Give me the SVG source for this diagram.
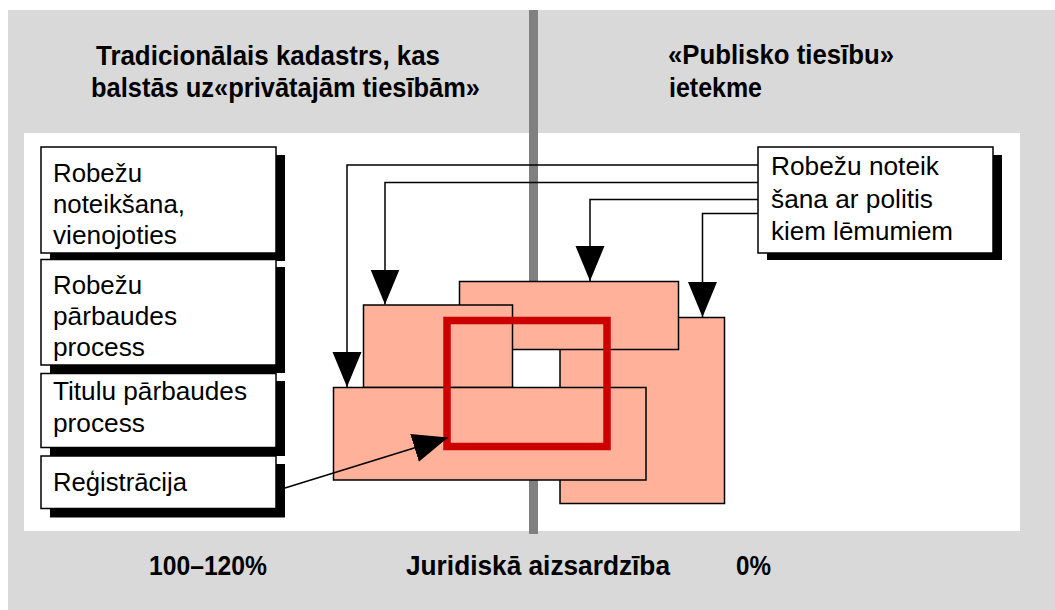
<svg xmlns="http://www.w3.org/2000/svg" width="1055" height="610" viewBox="0 0 1055 610">
<style>
.hd{font-family:"Liberation Sans",Arial,sans-serif;font-weight:bold;font-size:27px;fill:#000}
.tx{font-family:"Liberation Sans",Arial,sans-serif;font-size:25px;fill:#000}
.box{fill:#fff;stroke:#000;stroke-width:1.5}
.sh{fill:#000}
.sal{fill:#FFB19A;stroke:#000;stroke-width:1.5}
.con{fill:none;stroke:#000;stroke-width:1.5}
.bar{fill:#808080}
</style>
<defs>
<marker id="ah" markerUnits="userSpaceOnUse" markerWidth="36" markerHeight="30" refX="35" refY="14.5" orient="auto">
<path d="M0,0 L35,14.5 L0,29 Z" fill="#000"/>
</marker>
</defs>
<rect x="0" y="0" width="1055" height="610" fill="#fff"/>
<rect x="8" y="10" width="1047" height="600" fill="#D9D9D9"/>
<rect x="24" y="133" width="996" height="398" fill="#fff"/>
<rect class="bar" x="529" y="10" width="9" height="272"/>
<rect class="bar" x="529" y="480" width="9" height="54"/>

<g id="headings">
<text class="hd" x="96" y="65" textLength="344" lengthAdjust="spacingAndGlyphs">Tradicionālais kadastrs, kas</text>
<text class="hd" x="91" y="97" textLength="389" lengthAdjust="spacingAndGlyphs">balstās uz«privātajām tiesībām»</text>
<text class="hd" x="668" y="64" textLength="226" lengthAdjust="spacingAndGlyphs">«Publisko tiesību»</text>
<text class="hd" x="669" y="97" textLength="93" lengthAdjust="spacingAndGlyphs">ietekme</text>
</g>

<g id="shapes">
<rect id="rectC" class="sal" x="560" y="317.5" width="164.5" height="186"/>
<rect id="rectA" class="sal" x="459.5" y="281.5" width="219" height="68"/>
<rect id="rectB" class="sal" x="363.5" y="305" width="149" height="82.5"/>
<rect id="rectD" class="sal" x="333.5" y="387.5" width="312.5" height="92.5"/>
<rect id="redFrame" x="447" y="320.5" width="160" height="126" fill="none" stroke="#CC0000" stroke-width="7.5"/>
</g>

<g id="connectors">
<path class="con" d="M758,165 H347 V387" marker-end="url(#ah)"/>
<path class="con" d="M758,182.5 H385 V304.5" marker-end="url(#ah)"/>
<path class="con" d="M758,199.5 H590 V281" marker-end="url(#ah)"/>
<path class="con" d="M758,213.5 H702.5 V317" marker-end="url(#ah)"/>
<path class="con" d="M285,488 L448,437.5" marker-end="url(#ah)"/>
</g>

<g id="box1">
<rect class="sh" x="50" y="155" width="235" height="106"/>
<rect class="box" x="41" y="147" width="235" height="106"/>
<text class="tx" x="53" y="182" textLength="89" lengthAdjust="spacingAndGlyphs">Robežu</text>
<text class="tx" x="53" y="213" textLength="132" lengthAdjust="spacingAndGlyphs">noteikšana,</text>
<text class="tx" x="53" y="243.5" textLength="124" lengthAdjust="spacingAndGlyphs">vienojoties</text>
</g>
<g id="box2">
<rect class="sh" x="50" y="267" width="235" height="106"/>
<rect class="box" x="41" y="259.5" width="235" height="105.5"/>
<text class="tx" x="53" y="293.5" textLength="89" lengthAdjust="spacingAndGlyphs">Robežu</text>
<text class="tx" x="53" y="324.5" textLength="124" lengthAdjust="spacingAndGlyphs">pārbaudes</text>
<text class="tx" x="53" y="356" textLength="92" lengthAdjust="spacingAndGlyphs">process</text>
</g>
<g id="box3">
<rect class="sh" x="50" y="381" width="235" height="75"/>
<rect class="box" x="41" y="373.5" width="235" height="74"/>
<text class="tx" x="53" y="399.5" textLength="194" lengthAdjust="spacingAndGlyphs">Titulu pārbaudes</text>
<text class="tx" x="53" y="432" textLength="92" lengthAdjust="spacingAndGlyphs">process</text>
</g>
<g id="box4">
<rect class="sh" x="50" y="464" width="235" height="53.5"/>
<rect class="box" x="41" y="456" width="235" height="52.5"/>
<text class="tx" x="53" y="491" textLength="134" lengthAdjust="spacingAndGlyphs">Reģistrācija</text>
</g>
<g id="boxRight">
<rect class="sh" x="767" y="155" width="235" height="105"/>
<rect class="box" x="758" y="147" width="235" height="106"/>
<text class="tx" x="771" y="175" textLength="168" lengthAdjust="spacingAndGlyphs">Robežu noteik</text>
<text class="tx" x="771" y="207.5" textLength="162" lengthAdjust="spacingAndGlyphs">šana ar politis</text>
<text class="tx" x="771" y="239.5" textLength="182" lengthAdjust="spacingAndGlyphs">kiem lēmumiem</text>
</g>

<g id="bottomLabels">
<text class="hd" x="149" y="575" textLength="118" lengthAdjust="spacingAndGlyphs">100–120%</text>
<text class="hd" x="406" y="575" textLength="264" lengthAdjust="spacingAndGlyphs">Juridiskā aizsardzība</text>
<text class="hd" x="736" y="575" textLength="35" lengthAdjust="spacingAndGlyphs">0%</text>
</g>
</svg>
